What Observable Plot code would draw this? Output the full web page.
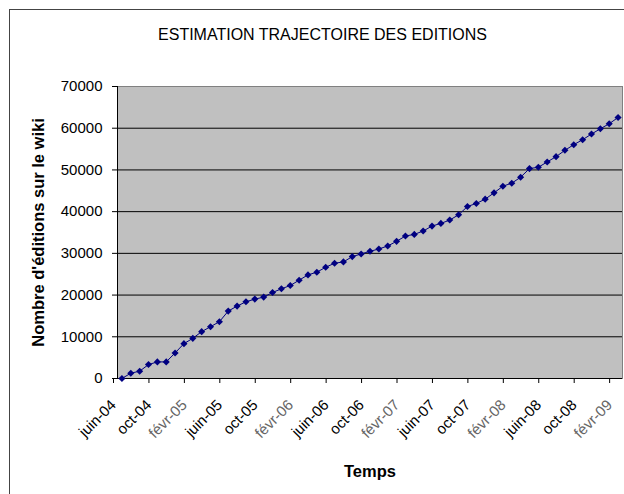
<!DOCTYPE html>
<html><head><meta charset="utf-8">
<script src="https://cdn.jsdelivr.net/npm/d3@7"></script>
<script src="https://cdn.jsdelivr.net/npm/@observablehq/plot@0.6"></script>
<style>
html,body{margin:0;padding:0;background:#fff;}
body{width:624px;height:494px;overflow:hidden;position:relative;font-family:"Liberation Sans",Arial,sans-serif;}
#border{position:absolute;left:9px;top:9px;width:700px;height:600px;border:1px solid #444;box-sizing:border-box;}
#chart{position:absolute;left:0;top:0;}
</style></head><body>
<div id="border"></div><div id="chart"></div>
<script>
const title = "ESTIMATION TRAJECTOIRE DES EDITIONS";
const xTitle = "Temps";
const yTitle = "Nombre d'éditions sur le wiki";
// monthly values, juin-04 .. févr-09
const editions = [0,1270,1750,3340,3980,3980,6130,8360,9630,11230,12420,13610,16160,17360,18390,19030,19510,20620,21500,22290,23570,24840,25480,26670,27630,27950,29220,29860,30490,31050,31770,32880,34160,34550,35350,36540,37180,37980,39250,41240,41960,42990,44510,46100,46820,48250,50320,50640,51910,53180,54700,56050,57250,58600,59870,61070,62580];
const tickLabels = ["juin-04","oct-04","févr-05","juin-05","oct-05","févr-06","juin-06","oct-06","févr-07","juin-07","oct-07","févr-08","juin-08","oct-08","févr-09"];
const yTicks = [0,10000,20000,30000,40000,50000,60000,70000];

const data = editions.map((v, i) => ({month: i, value: v}));
const tickMonths = tickLabels.map((_, i) => i * 4);
const xc = d => d.month + 0.5;

const plot = Plot.plot({
  width: 624, height: 494,
  marginLeft: 117, marginRight: 2, marginTop: 86, marginBottom: 116,
  style: {fontFamily: "'Liberation Sans', Arial, sans-serif", fontSize: "15px", color: "#000", background: "transparent", overflow: "visible"},
  x: {type: "linear", domain: [0, editions.length]},
  y: {domain: [0, 70000]},
  marks: [
    Plot.frame({fill: "#c0c0c0", stroke: "none"}),
    Plot.gridY(yTicks.slice(1), {stroke: "#000", strokeOpacity: 1}),
    Plot.frame({stroke: "#808080"}),
    Plot.axisY(yTicks, {tickFormat: d => String(d), tickSize: 5, tickPadding: 10, label: null, fontSize: 15}),
    Plot.axisX(tickMonths, {tickFormat: m => tickLabels[m / 4], tickRotate: -45, tickSize: 5, tickPadding: 19, dx: -4, label: null, fontSize: 15}),
    Plot.ruleX([0], {stroke: "#000"}),
    Plot.ruleY([0], {stroke: "#000"}),
    Plot.line(data, {x: xc, y: "value", stroke: "#000080", strokeWidth: 1}),
    Plot.dot(data, {x: xc, y: "value", symbol: "diamond2", fill: "#000080", stroke: "none", r: 3.2}),
    Plot.text([title], {frameAnchor: "top", lineAnchor: "middle", dx: -47.5, dy: -52, fontSize: 16}),
    Plot.text([xTitle], {frameAnchor: "bottom", lineAnchor: "middle", dy: 93, fontWeight: "bold", fontSize: 16.5}),
    Plot.text([yTitle], {frameAnchor: "left", textAnchor: "middle", lineAnchor: "middle", dx: -79, rotate: -90, fontWeight: "bold", fontSize: 16.5})
  ]
});
d3.select(plot).selectAll("text").filter(function() { return this.textContent.startsWith("févr"); }).attr("fill", "#666");
document.getElementById("chart").appendChild(plot);
</script>
</body></html>
